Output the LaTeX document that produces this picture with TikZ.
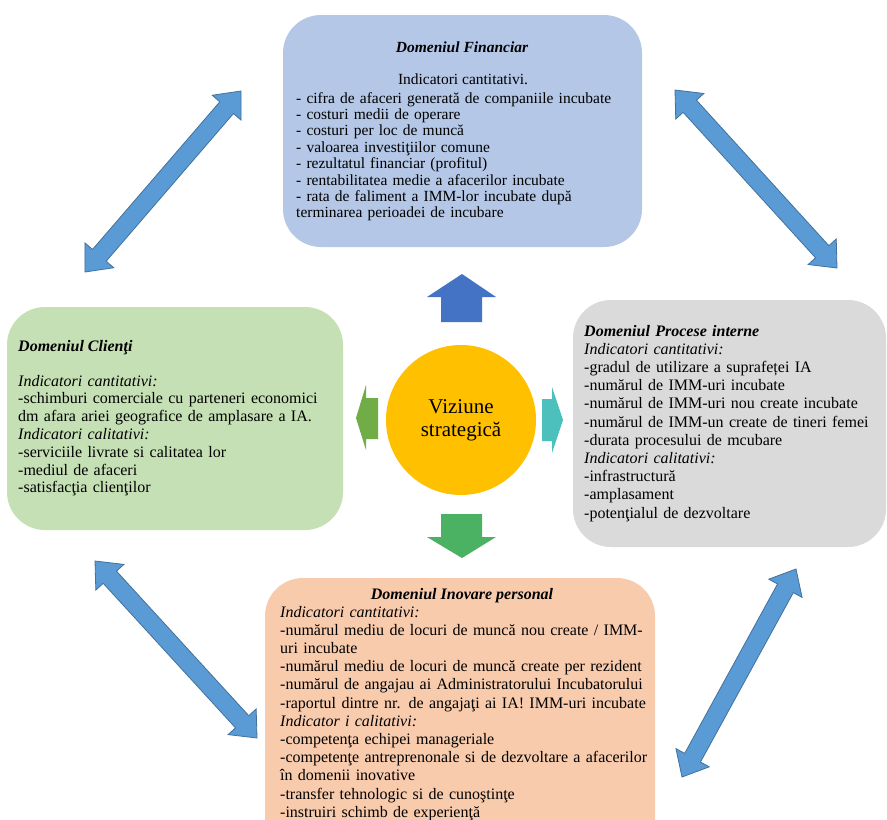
\documentclass[tikz,border=0pt]{standalone}
\usepackage{fontspec}
\setmainfont{Liberation Serif}
\usetikzlibrary{calc}
\definecolor{finblue}{HTML}{B4C7E7}
\definecolor{cligreen}{HTML}{C5E0B4}
\definecolor{procgrey}{HTML}{DADADA}
\definecolor{inovorange}{HTML}{F8CBAD}
\definecolor{vizgold}{HTML}{FFC000}
\definecolor{arrblue}{HTML}{4472C4}
\definecolor{arrgreen}{HTML}{4AB262}
\definecolor{arrlgreen}{HTML}{70AD47}
\definecolor{arrteal}{HTML}{4BC0BC}
\definecolor{dblfill}{HTML}{5B9BD5}
\definecolor{dbldraw}{HTML}{41719C}
\tikzset{
  domainbox/.style={rectangle, rounded corners=38pt, inner sep=0pt, draw=none},
  txt/.style={inner sep=0pt, align=left, anchor=base west, text width=420pt},
  ttl/.style={inner sep=0pt, font=\fontsize{16}{18}\selectfont\bfseries\itshape},
  body/.style={font=\fontsize{16}{18.2}\selectfont},
  dbl/.style={fill=dblfill, draw=dbldraw, line width=0.8pt, line join=miter},
}
\newcommand\dblarrow[3]{%
  \coordinate (#1p) at ($(#2)!22pt!(#3)$);
  \coordinate (#1q) at ($(#3)!22pt!(#2)$);
  \path[dbl] (#2) -- ($(#1p)!19pt!90:(#3)$) -- ($(#1p)!9pt!90:(#3)$)
    -- ($(#1q)!9pt!-90:(#2)$) -- ($(#1q)!19pt!-90:(#2)$) -- (#3)
    -- ($(#1q)!19pt!90:(#2)$) -- ($(#1q)!9pt!90:(#2)$)
    -- ($(#1p)!9pt!-90:(#3)$) -- ($(#1p)!19pt!-90:(#3)$) -- cycle;}
\begin{document}
\begin{tikzpicture}[x=1pt, y=-1pt]
\useasboundingbox (0,0) rectangle (887,820);
\clip (0,0) rectangle (887,820);
\fill[white] (0,0) rectangle (887,820);

% domain boxes
\node[domainbox, fill=finblue, minimum width=359pt, minimum height=232pt] (fin) at (462.5,131) {};
\node[domainbox, fill=cligreen, minimum width=336pt, minimum height=223pt] (cli) at (175,418.5) {};
\node[domainbox, fill=procgrey, minimum width=313pt, minimum height=247pt] (proc) at (729.5,423.5) {};
\node[domainbox, fill=inovorange, minimum width=390pt, minimum height=292pt] (inov) at (460,724) {};

% top box text
\node[ttl, anchor=base, font=\fontsize{15.5}{16.4}\selectfont\bfseries\itshape] (fint) at (462,52) {Domeniul Financiar};
\node[inner sep=0pt, anchor=base, font=\fontsize{15.5}{16.4}\selectfont] (finind) at (463,84) {Indicatori cantitativi.};
\node[txt, font=\fontsize{15.5}{16.4}\selectfont] (fintxt) at (296,103) {%
- cifra de afaceri generată de companiile incubate\\
- costuri medii de operare\\
- costuri per loc de muncă\\
- valoarea investiţiilor comune\\
- rezultatul financiar (profitul)\\
- rentabilitatea medie a afacerilor incubate\\
- rata de faliment a IMM-lor incubate după\\
terminarea perioadei de incubare};

% left box text
\node[ttl, anchor=base west] (clit) at (18,351) {Domeniul Clienţi};
\node[txt, font=\fontsize{16}{17.8}\selectfont] (clitxt) at (18,386) {%
\textit{Indicatori cantitativi:}\\
-schimburi comerciale cu parteneri economici\\
dm afara ariei geografice de amplasare a IA.\\
\textit{Indicatori calitativi:}\\
-serviciile livrate si calitatea lor\\
-mediul de afaceri\\
-satisfacţia clienţilor};

% right box text
\node[txt, body] (proctxt) at (584,336) {%
\textbf{\textit{Domeniul Procese interne}}\\
\textit{Indicatori cantitativi:}\\
-gradul de utilizare a suprafeței IA\\
-numărul de IMM-uri incubate\\
-numărul de IMM-uri nou create incubate\\
-numărul de IMM-un create de tineri femei\\
-durata procesului de mcubare\\
\textit{Indicatori calitativi:}\\
-infrastructură\\
-amplasament\\
-potenţialul de dezvoltare};

% bottom box text
\node[ttl, anchor=base] (inovt) at (462,599) {Domeniul Inovare personal};
\node[txt, body] (inovtxt) at (280,617) {%
\textit{Indicatori cantitativi:}\\
-numărul mediu de locuri de muncă nou create / IMM-\\
uri incubate\\
-numărul mediu de locuri de muncă create per rezident\\
-numărul de angajau ai Administratorului Incubatorului\\
-raportul dintre nr. de angajaţi ai IA! IMM-uri incubate\\
\textit{Indicator i calitativi:}\\
-competenţa echipei manageriale\\
-competenţe antreprenonale si de dezvoltare a afacerilor\\
în domenii inovative\\
-transfer tehnologic si de cunoştinţe\\
-instruiri schimb de experienţă};

% centre
\node[circle, fill=vizgold, minimum size=150pt, inner sep=0pt, align=center,
      font=\fontsize{21}{23}\selectfont] (viz) at (461,420) {Viziune\\strategică};

% block arrows around the centre
\fill[arrblue] (462,274) -- (496,297) -- (482,297) -- (482,322) -- (441,322) -- (441,297) -- (427,297) -- cycle;
\fill[arrgreen] (441,514) -- (482,514) -- (482,537) -- (496,537) -- (462,558) -- (427,537) -- (441,537) -- cycle;
\fill[arrlgreen] (356,418) -- (366,385) -- (366,398) -- (378,398) -- (378,439) -- (366,439) -- (366,450) -- cycle;
\fill[arrteal] (542,399) -- (552,399) -- (552,387) -- (563,420) -- (552,453) -- (552,441) -- (542,441) -- cycle;

% double arrows between domains
\coordinate (tlA) at (85,272); \coordinate (tlB) at (241,91);
\coordinate (trA) at (675,90); \coordinate (trB) at (837,268);
\coordinate (blA) at (95,561); \coordinate (blB) at (257,738);
\coordinate (brA) at (796,569); \coordinate (brB) at (682,777);
\dblarrow{tl}{tlA}{tlB}
\dblarrow{tr}{trA}{trB}
\dblarrow{bl}{blA}{blB}
\dblarrow{br}{brA}{brB}
\end{tikzpicture}
\end{document}
